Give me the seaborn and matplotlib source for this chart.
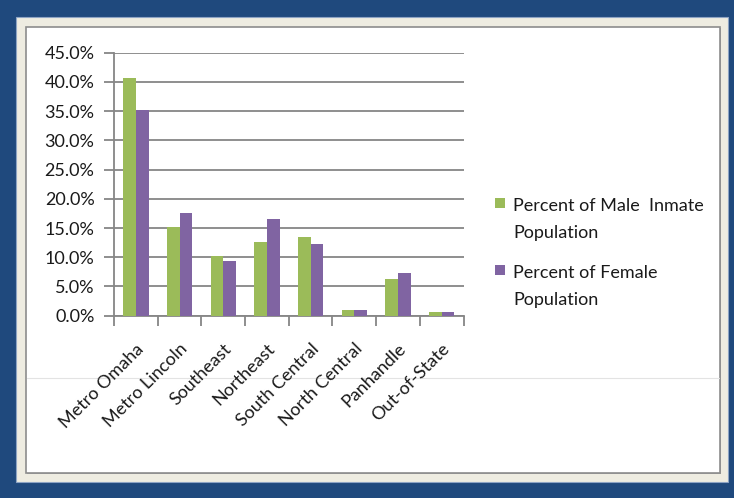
import matplotlib
matplotlib.use("Agg")
import matplotlib.pyplot as plt
import seaborn as sns
import pandas as pd
from matplotlib.patches import Rectangle
from matplotlib.lines import Line2D
from matplotlib.ticker import FuncFormatter, MultipleLocator

categories = ["Metro Omaha", "Metro Lincoln", "Southeast", "Northeast",
              "South Central", "North Central", "Panhandle", "Out-of-State"]
male = [40.6, 15.2, 10.3, 12.6, 13.5, 1.0, 6.2, 0.7]
female = [35.2, 17.5, 9.4, 16.6, 12.3, 1.0, 7.3, 0.7]
series_names = ["Percent of Male  Inmate\nPopulation", "Percent of Female\nPopulation"]
colors = ["#9BBB59", "#8064A2"]

df = pd.DataFrame({
    "Region": categories * 2,
    "Value": male + female,
    "Series": [series_names[0]] * len(categories) + [series_names[1]] * len(categories),
})

sns.set_theme(style="white")
plt.rcParams["font.family"] = ["Lato", "DejaVu Sans"]

W, H = 734, 498
fig = plt.figure(figsize=(W / 100, H / 100), dpi=100, facecolor="#1F497D")

def px_rect(x0, y0, x1, y1, **kw):
    r = Rectangle((x0 / W, 1 - y1 / H), (x1 - x0) / W, (y1 - y0) / H,
                  transform=fig.transFigure, figure=fig, **kw)
    fig.patches.append(r)
    return r

px_rect(16, 17, 728, 482, facecolor="#EEECE1", edgecolor="#8EA4C4", linewidth=0.8, zorder=0)
px_rect(27, 28, 721, 474, facecolor="#A6A6A6", edgecolor="none", zorder=0.5)
px_rect(26, 27, 720, 473, facecolor="white", edgecolor="#8C8C8C", linewidth=1.2, zorder=1)
fig.lines.append(Line2D([27 / W, 719 / W], [1 - 378 / H] * 2, transform=fig.transFigure,
                        color="#E3E3E3", linewidth=0.8, zorder=1.5))

ax = fig.add_axes([114 / W, 1 - 315.7 / H, (463.5 - 114) / W, (315.7 - 52.7) / H], zorder=2)
ax.set_facecolor("none")

sns.barplot(data=df, x="Region", y="Value", hue="Series", palette=colors,
            width=0.58, gap=0, saturation=1, linewidth=0, ax=ax, legend=False, zorder=3)

ax.set_ylim(0, 45)
ax.set_xlim(-0.5, len(categories) - 0.5)
ax.yaxis.set_major_locator(MultipleLocator(5))
ax.yaxis.set_major_formatter(FuncFormatter(lambda v, p: f"{v:.1f}%"))
ax.grid(axis="y", color="#868686", linewidth=1.3, zorder=0)
ax.set_axisbelow(True)
for s in ["top", "right"]:
    ax.spines[s].set_visible(False)
for s in ["left", "bottom"]:
    ax.spines[s].set_color("#868686")
    ax.spines[s].set_linewidth(1.3)

ax.set_xlabel("")
ax.set_ylabel("")
ax.set_xticks(list(range(len(categories))))
ax.set_xticklabels(categories, rotation=45, ha="right", rotation_mode="anchor",
                   fontsize=13, color="#1a1a1a")
ax.tick_params(axis="x", which="major", bottom=True, length=0, pad=18)
ax.set_xticks([i - 0.5 for i in range(len(categories) + 1)], minor=True)
ax.tick_params(axis="x", which="minor", bottom=True, length=7, width=1.3,
               color="#868686", direction="out")
ax.tick_params(axis="y", left=True, length=7, width=1.3, color="#868686", direction="out",
               labelsize=13, labelcolor="#1a1a1a", pad=7)

# legend
leg_y = [203, 270]
for i, (name, c) in enumerate(zip(series_names, colors)):
    px_rect(495, leg_y[i] - 5, 505, leg_y[i] + 5, facecolor=c, edgecolor="none", zorder=3)
    fig.text(513 / W, 1 - (leg_y[i] - 5) / H, name, ha="left", va="top",
             fontsize=13, color="#1a1a1a", linespacing=1.85, zorder=3)

fig.savefig("out.png", dpi=100, facecolor=fig.get_facecolor())
